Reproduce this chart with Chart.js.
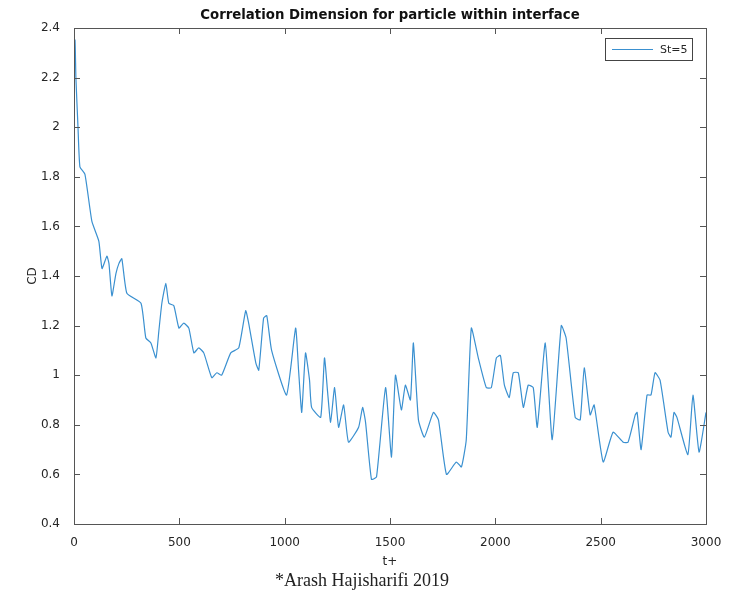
<!DOCTYPE html>
<html>
<head>
<meta charset="utf-8">
<script src="https://cdn.jsdelivr.net/npm/chart.js@4"></script>
<style>
  body { margin: 0; background: #fff; }
  #wrap { position: relative; width: 731px; height: 598px; }
  #footer {
    position: absolute; left: 0; width: 724px; top: 570px; line-height: 20px;
    text-align: center; font-family: "Liberation Serif", "DejaVu Serif", serif;
    font-size: 18px; color: #222;
  }
</style>
</head>
<body>
<div id="wrap">
  <canvas id="cd-chart" width="731" height="598"></canvas>
  <div id="footer">*Arash Hajisharifi 2019</div>
</div>
<script>
// --- Data ---
const tValues = [0, 5, 9, 19, 28, 52, 85, 118, 133, 156, 166, 180, 199, 213, 227, 251, 318, 341, 365, 389,
  403, 417, 436, 450, 474, 498, 521, 545, 569, 592, 616, 654, 678, 701, 744, 782, 815, 829, 863, 877,
  900, 915, 938, 1009, 1052, 1066, 1081, 1099, 1118, 1128, 1171, 1189, 1204, 1218, 1237, 1256, 1280, 1303,
  1351, 1370, 1384, 1412, 1436, 1479, 1507, 1526, 1554, 1573, 1597, 1611, 1635, 1663, 1706, 1730, 1768,
  1815, 1839, 1862, 1886, 1919, 1957, 1981, 2005, 2024, 2043, 2066, 2085, 2109, 2133, 2156, 2180, 2199,
  2237, 2270, 2313, 2336, 2379, 2403, 2422, 2450, 2469, 2512, 2559, 2607, 2630, 2664, 2673, 2692, 2720,
  2739, 2758, 2782, 2820, 2834, 2848, 2862, 2914, 2938, 2967, 3000];
const cdValues = [2.36, 2.35, 2.2, 2.0, 1.84, 1.81, 1.62, 1.54, 1.43, 1.48, 1.45, 1.32, 1.41, 1.45, 1.47, 1.33, 1.29, 1.15, 1.13, 1.07,
  1.18, 1.29, 1.37, 1.29, 1.28, 1.19, 1.21, 1.19, 1.09, 1.11, 1.09, 0.99, 1.01, 1.0, 1.09, 1.11, 1.26, 1.21, 1.05, 1.02,
  1.23, 1.24, 1.10, 0.92, 1.19, 1.02, 0.85, 1.09, 0.98, 0.87, 0.83, 1.07, 0.93, 0.81, 0.95, 0.79, 0.88, 0.73,
  0.79, 0.87, 0.81, 0.58, 0.59, 0.95, 0.67, 1.0, 0.86, 0.96, 0.90, 1.13, 0.82, 0.75, 0.85, 0.82, 0.60,
  0.65, 0.63, 0.74, 1.19, 1.07, 0.95, 0.95, 1.07, 1.08, 0.96, 0.91, 1.01, 1.01, 0.87, 0.96, 0.95, 0.79,
  1.13, 0.74, 1.20, 1.15, 0.83, 0.82, 1.03, 0.84, 0.88, 0.65, 0.77, 0.73, 0.73, 0.84, 0.85, 0.70, 0.92,
  0.92, 1.01, 0.98, 0.77, 0.75, 0.85, 0.83, 0.68, 0.92, 0.69, 0.85];
const seriesLabel = 'St=5';
const chartTitle = 'Correlation Dimension for particle within interface';
const xTicks = [0, 500, 1000, 1500, 2000, 2500, 3000];
const yTicks = [0.4, 0.6, 0.8, 1, 1.2, 1.4, 1.6, 1.8, 2, 2.2, 2.4];

const axisColor = '#555';
const textColor = '#262626';
const lineColor = '#3a90d0';
const fontFamily = '"DejaVu Sans", "Liberation Sans", sans-serif';

// box around the plot + inward ticks on all four sides (MATLAB style)
const boxPlugin = {
  id: 'box',
  afterDraw(chart) {
    const { ctx, chartArea: a, scales: { x, y } } = chart;
    ctx.save();
    ctx.strokeStyle = axisColor;
    ctx.lineWidth = 1;
    ctx.strokeRect(a.left + 0.5, a.top + 0.5, a.right - a.left, a.bottom - a.top);
    ctx.beginPath();
    xTicks.forEach(v => {
      const px = Math.round(x.getPixelForValue(v)) + 0.5;
      ctx.moveTo(px, a.bottom); ctx.lineTo(px, a.bottom - 6);
      ctx.moveTo(px, a.top); ctx.lineTo(px, a.top + 6);
    });
    yTicks.forEach(v => {
      const py = Math.round(y.getPixelForValue(v)) + 0.5;
      ctx.moveTo(a.left, py); ctx.lineTo(a.left + 6, py);
      ctx.moveTo(a.right, py); ctx.lineTo(a.right - 6, py);
    });
    ctx.stroke();

    // title centred over the plot box, like MATLAB does
    ctx.fillStyle = '#111';
    ctx.font = 'bold 13.3px ' + fontFamily;
    ctx.textAlign = 'center';
    ctx.textBaseline = 'middle';
    ctx.fillText(chartTitle, (a.left + a.right) / 2, 16);
    ctx.restore();
  }
};

// legend box in the top right corner of the plot
const legendBoxPlugin = {
  id: 'legendBox',
  afterDraw(chart) {
    const { ctx, chartArea: a } = chart;
    const w = 87, h = 22;
    const lx = a.right - 14 - w, ly = a.top + 10;
    ctx.save();
    ctx.fillStyle = '#fff';
    ctx.fillRect(lx, ly, w, h);
    ctx.strokeStyle = '#444';
    ctx.lineWidth = 1;
    ctx.strokeRect(lx + 0.5, ly + 0.5, w, h);
    ctx.strokeStyle = lineColor;
    ctx.lineWidth = 1.2;
    ctx.beginPath();
    ctx.moveTo(lx + 7, ly + 11.5); ctx.lineTo(lx + 48, ly + 11.5);
    ctx.stroke();
    ctx.fillStyle = textColor;
    ctx.font = '11px ' + fontFamily;
    ctx.textBaseline = 'middle';
    ctx.fillText(chart.data.datasets[0].label, lx + 55, ly + 12);
    ctx.restore();
  }
};

const points = tValues.map((t, i) => ({ x: t, y: cdValues[i] }));

new Chart(document.getElementById('cd-chart'), {
  type: 'line',
  data: {
    datasets: [{
      label: seriesLabel,
      data: points,
      borderColor: lineColor,
      borderWidth: 1.2,
      pointRadius: 0,
      tension: 0.15,
      fill: false
    }]
  },
  options: {
    responsive: false,
    animation: false,
    layout: { padding: { top: 28, right: 25, bottom: 28, left: 0 } },
    plugins: {
      legend: { display: false },
      tooltip: { enabled: false },
      title: { display: false }
    },
    scales: {
      x: {
        type: 'linear',
        min: 0, max: 3000,
        afterBuildTicks: s => { s.ticks = xTicks.map(v => ({ value: v })); },
        afterFit: s => { s.height = 46; },
        grid: { display: false },
        border: { display: true, color: axisColor },
        ticks: {
          color: textColor, padding: 4,
          font: { family: fontFamily, size: 12 },
          callback: v => String(v)
        },
        title: {
          display: true, text: 't+', color: textColor,
          font: { family: fontFamily, size: 12 },
          padding: { top: 0, bottom: 1 }
        }
      },
      y: {
        min: 0.4, max: 2.4,
        afterBuildTicks: s => { s.ticks = yTicks.map(v => ({ value: v })); },
        afterFit: s => { s.width = 74; },
        grid: { display: false },
        border: { display: true, color: axisColor },
        ticks: {
          color: textColor, padding: 6,
          font: { family: fontFamily, size: 12 },
          callback: v => String(+v.toFixed(1))
        },
        title: {
          display: true, text: 'CD', color: textColor,
          font: { family: fontFamily, size: 12 },
          padding: { top: 26 }
        }
      }
    }
  },
  plugins: [boxPlugin, legendBoxPlugin]
});
</script>
</body>
</html>
